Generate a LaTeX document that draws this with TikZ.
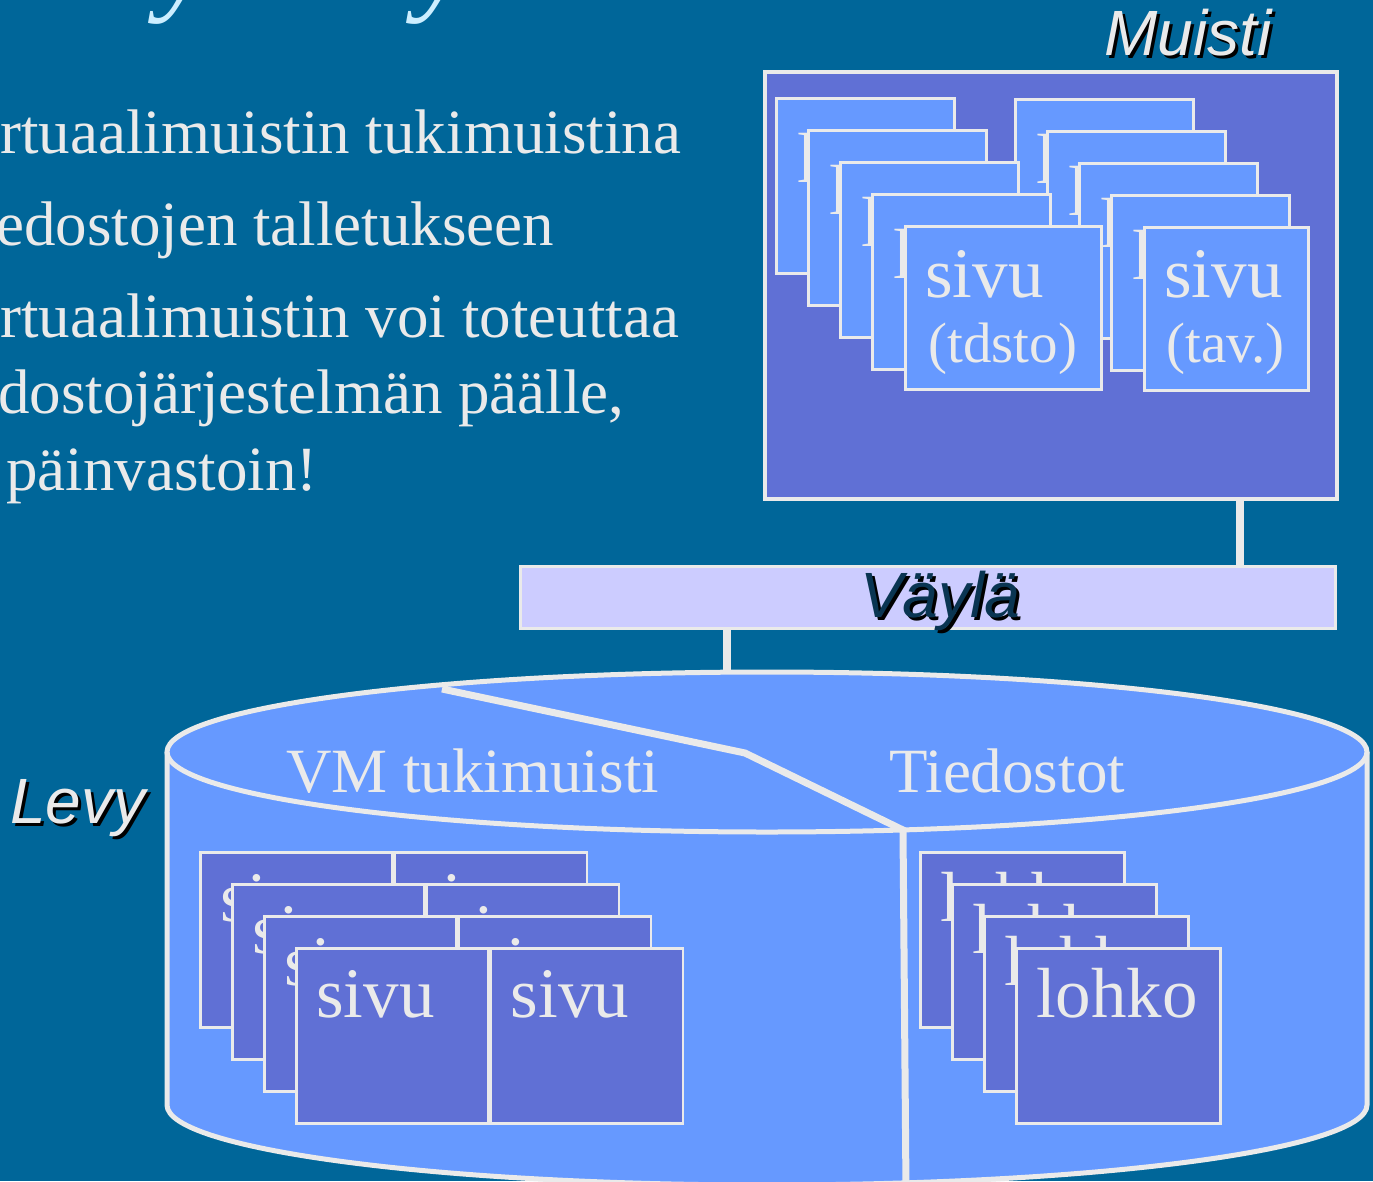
\documentclass[tikz,border=0pt]{standalone}
\usepackage{fontspec}
\setmainfont{Liberation Serif}
\setsansfont{Liberation Sans}
\usetikzlibrary{positioning}

\definecolor{slidebg}{HTML}{006699}
\definecolor{rim}{HTML}{EAEAEA}
\definecolor{pagelt}{HTML}{6699FF}
\definecolor{pagedk}{HTML}{6070D5}
\definecolor{busfill}{HTML}{CCCCFF}
\definecolor{titleblue}{HTML}{CCEEFF}
\definecolor{busink}{HTML}{0A3552}

\tikzset{
  memory/.style = {draw=rim, fill=pagedk, line width=4pt, minimum width=572pt, minimum height=427pt, inner sep=0pt, anchor=north west},
  bus/.style = {draw=rim, fill=busfill, line width=3pt, minimum width=815pt, minimum height=62pt, inner sep=0pt, anchor=north west},
  mempage/.style = {draw=rim, fill=pagelt, line width=2.5pt, minimum width=178pt, minimum height=175pt, inner sep=0pt, anchor=north west},
  diskpage/.style = {draw=rim, fill=pagedk, line width=2.5pt, minimum width=192pt, minimum height=175pt, inner sep=0pt, anchor=north west},
  pagetext/.style = {text=rim, font=\fontsize{71}{74}\selectfont, anchor=base west, inner sep=0pt},
  subtext/.style = {text=rim, font=\fontsize{57}{60}\selectfont, anchor=base west, inner sep=0pt},
  bodytext/.style = {text=rim, font=\fontsize{63}{70}\selectfont, anchor=base west, inner sep=0pt},
  titlefrag/.style = {text=titleblue, font=\itshape\fontsize{120}{120}\selectfont, anchor=base west, inner sep=0pt},
  tag/.style = {font=\sffamily\itshape\fontsize{64}{70}\selectfont, anchor=base west, inner sep=0pt},
  link/.style = {draw=rim, line width=8pt},
  rimline/.style = {draw=rim, line width=5pt}
}

\begin{document}
\begin{tikzpicture}[x=1pt, y=1pt]
\useasboundingbox (0,0) rectangle (1373,-1181);
\fill[slidebg] (0,0) rectangle (1373,-1181);

% title (cut off at the top)
\node[titlefrag] (ty1) at (158,2) {y};
\node[titlefrag] (ty2) at (416,2) {y};

% bullet text, cut off at the left
\node[bodytext] (b1) at (0,-153) {rtuaalimuistin tukimuistina};
\node[bodytext] (b2) at (-4,-245) {edostojen talletukseen};
\node[bodytext] (b3) at (0,-337) {rtuaalimuistin voi toteuttaa};
\node[bodytext] (b4) at (-2,-413) {dostojärjestelmän päälle,};
\node[bodytext] (b5) at (6,-490) {päinvastoin!};

% muisti
\node[tag, text=black] at (1107,-58) {Muisti};
\node[tag, text=rim] (muistilbl) at (1104,-55) {Muisti};
\coordinate (mtap) at (1240,-497);
\node[bus] (vayla) at (519,-565) {};
\draw[link] (mtap) -- (mtap |- vayla.north);
\node[memory] (muisti) at (763,-70) {};
\foreach \i in {0,...,3} {
  \node[mempage] (ma\i) at (775+32*\i, -97-32*\i) {};
  \node[pagetext] at ([shift={(22pt,-85pt)}]ma\i.north west) {lohko};
  \node[mempage] (mb\i) at (1014+32*\i, -98-32*\i) {};
  \node[pagetext] at ([shift={(22pt,-85pt)}]mb\i.north west) {lohko};
}
\node[mempage, minimum width=196pt, minimum height=163pt] (mafront) at (904,-225) {};
\node[pagetext] at ([shift={(21pt,-72pt)}]mafront.north west) {sivu};
\node[subtext] at ([shift={(24pt,-137pt)}]mafront.north west) {(tdsto)};
\node[mempage, minimum width=164pt, minimum height=163pt] (mbfront) at (1143,-226) {};
\node[pagetext] at ([shift={(21pt,-71pt)}]mbfront.north west) {sivu};
\node[subtext] at ([shift={(23pt,-136pt)}]mbfront.north west) {(tav.)};

% vayla
\node[tag, text=black] at (863,-620) {Väylä};
\node[tag, text=busink] (vaylalbl) at (860,-617) {Väylä};
\coordinate (ltap) at (727,-674);
\draw[link] (ltap |- vayla.south) -- (ltap);

% levy
\fill[pagelt] (167,-752) -- (167,-1105) arc[start angle=180, end angle=360, x radius=600, y radius=80]
  -- (1367,-752) arc[start angle=0, end angle=180, x radius=600, y radius=80] -- cycle;
\draw[rimline] (167,-752) -- (167,-1105) arc[start angle=180, end angle=360, x radius=600, y radius=80] -- (1367,-752);
\draw[rimline] (767,-752) ellipse[x radius=600, y radius=80];
\draw[rim, line width=7pt] (442,-689) -- (745,-753) -- (903,-830) -- (906,-1190);
\node[text=rim, font=\fontsize{63}{70}\selectfont, anchor=base west, inner sep=0pt] (vmlbl) at (286,-792) {VM tukimuisti};
\node[text=rim, font=\fontsize{63}{70}\selectfont, anchor=base west, inner sep=0pt] (tdlbl) at (889,-792) {Tiedostot};
\node[tag, text=black] at (13,-826) {Levy};
\node[tag, text=rim] (levylbl) at (10,-823) {Levy};

\foreach \i in {0,...,3} {
  \node[diskpage] (vl\i) at (199+32*\i, -851-32*\i) {};
  \node[pagetext] at ([shift={(21pt,-70pt)}]vl\i.north west) {sivu};
  \node[diskpage] (vr\i) at (vl\i.north east) {};
  \node[pagetext] at ([shift={(21pt,-70pt)}]vr\i.north west) {sivu};
}
\foreach \i in {0,...,3} {
  \node[diskpage, minimum width=204pt] (tb\i) at (919+32*\i, -851-32*\i) {};
  \node[pagetext] at ([shift={(21pt,-70pt)}]tb\i.north west) {lohko};
}
\end{tikzpicture}
\end{document}
